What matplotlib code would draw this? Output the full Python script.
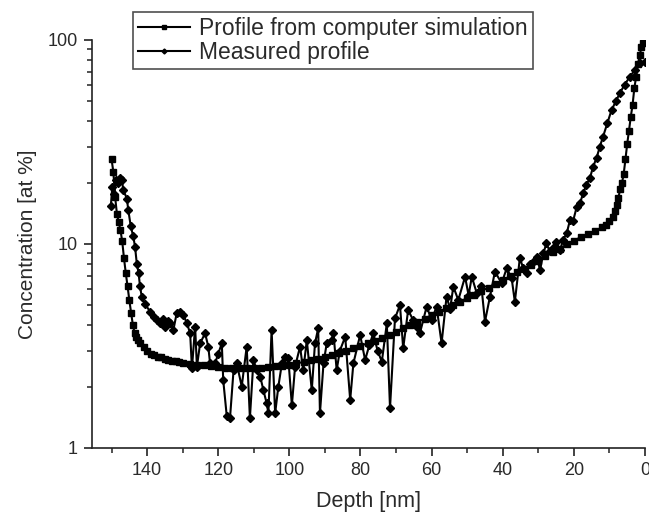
import matplotlib
matplotlib.use("Agg")
import matplotlib.pyplot as plt
from matplotlib.ticker import FixedLocator, FixedFormatter, LogLocator, NullFormatter, MultipleLocator

# ---- data ----
sim_depth = [150, 149.5, 149, 148.5, 148, 147.5, 147, 146.5, 146, 145.5, 145, 144.5, 144,
             143.5, 143, 142.5, 142, 141, 140, 139, 138, 137, 136, 135, 134, 133, 132, 131,
             130, 128, 126, 124, 122, 120, 118, 116, 114, 112, 110, 108, 106, 104, 102, 100,
             98, 96, 94, 92, 90, 88, 86, 84, 82, 80, 78, 76, 74, 72, 70, 68, 66, 64, 62, 60,
             58, 56, 54, 52, 50, 48, 46, 44, 42, 40, 38, 36, 34, 32, 30, 28, 26, 24, 22, 20,
             18, 16, 14, 12, 11, 10, 9, 8.5, 8, 7.5, 7, 6.5, 6, 5.5, 5, 4.5, 4, 3.5, 3, 2.5,
             2, 1.5, 1, 0.5, 0]
sim_conc = [26.0, 22.6, 17.0, 14.1, 12.8, 11.7, 10.3, 8.5, 7.2, 6.2, 5.3, 4.6, 4.0,
            3.65, 3.5, 3.38, 3.28, 3.14, 3.0, 2.9, 2.85, 2.80, 2.78, 2.74, 2.71, 2.68, 2.66, 2.64,
            2.62, 2.59, 2.56, 2.54, 2.52, 2.50, 2.48, 2.47, 2.46, 2.46, 2.46, 2.47, 2.49, 2.51, 2.53, 2.56,
            2.60, 2.64, 2.69, 2.74, 2.80, 2.86, 2.93, 3.00, 3.08, 3.17, 3.26, 3.36, 3.47, 3.59, 3.72, 3.86, 4.00, 4.15, 4.31, 4.48,
            4.65, 4.83, 5.02, 5.22, 5.43, 5.65, 5.88, 6.12, 6.38, 6.65, 6.95, 7.25, 7.58, 7.92, 8.30, 8.70, 9.10, 9.50, 9.95, 10.4,
            10.8, 11.2, 11.6, 12.1, 12.4, 12.9, 13.5, 14.5, 15.5, 16.8, 18.5, 19.8, 22.0, 26.0, 31.0, 36.0, 42.0, 48.0, 58.0, 66.0,
            76.0, 84.0, 92.0, 97.0, 100.0]

meas_depth = [150.2, 149.8, 149.3, 148.8, 148.1, 147.5, 147.1, 146.7, 145.7, 145.3, 144.6, 143.9,
              143.4, 142.9, 142.4, 142.0, 141.5, 140.6, 139.2, 138.2, 137.3, 136.3, 135.5, 134.9,
              134.2, 133.5, 132.6, 131.7, 130.7, 129.8, 128.8, 127.9, 127.4, 126.5, 126.0, 125.1,
              123.7, 122.8, 122.3, 120.9, 120.0, 119.0, 118.6, 117.6, 116.7, 115.7, 114.8, 113.4,
              112.0, 111.1, 110.1, 109.2, 108.2, 107.3, 106.4, 105.9, 105.0, 104.0, 103.1, 102.1,
              101.2, 100.3, 99.3, 98.4, 97.0, 96.1, 95.1, 93.7, 92.8, 91.9, 91.4, 90.4, 89.5, 88.1,
              87.6, 86.7, 85.8, 84.3, 82.9, 82.0, 80.1, 78.7, 77.5, 76.4, 75.2, 74.0, 72.6, 71.7,
              70.3, 68.9, 68.0, 66.6, 65.2, 64.2, 63.3, 61.4, 60.0, 58.6, 57.2, 55.8, 54.8, 53.9,
              52.5, 50.6, 49.6, 48.7, 47.3, 46.0, 45.0, 43.6, 42.2, 40.3, 38.9, 37.5, 36.6, 35.2,
              34.2, 33.3, 32.3, 31.4, 30.4, 29.5, 28.6, 27.7, 26.8, 25.8, 24.9, 23.9, 23.0, 22.0,
              21.1, 20.2, 19.2, 18.3, 17.4, 16.5, 15.5, 14.6, 13.6, 12.7, 11.8, 10.6, 9.4, 8.2,
              7.1, 5.7, 4.25, 2.8, 1.4, 0.0]
meas_conc = [15.4, 19.0, 17.5, 20.6, 20.0, 21.0, 20.6, 18.4, 16.7, 14.7, 12.2, 10.9,
             9.7, 8.0, 7.2, 6.2, 5.5, 5.1, 4.66, 4.40, 4.24, 4.08, 4.3, 3.93,
             4.2, 4.08, 3.8, 4.57, 4.66, 4.49, 4.08, 3.65, 2.46, 3.93, 2.5, 3.26,
             3.65, 3.14, 2.6, 2.6, 2.9, 3.26, 2.15, 1.43, 1.40, 2.4, 2.6, 2.0,
             3.14, 1.40, 2.7, 2.4, 2.24, 1.92, 1.66, 1.48, 3.79, 1.48, 2.0, 2.6,
             2.8, 2.75, 1.62, 2.5, 3.14, 2.4, 3.38, 1.92, 3.26, 3.86, 1.48, 2.6, 3.26, 3.38,
             3.65, 2.41, 3.0, 3.51, 1.72, 2.6, 3.58, 2.70, 3.2, 3.65, 3.0, 2.65, 4.08, 1.57,
             4.32, 5.02, 3.08, 4.75, 4.24, 3.9, 3.65, 4.93, 4.24, 4.93, 3.26, 5.52, 4.8, 6.18,
             5.31, 6.91, 5.6, 6.91, 5.73, 6.2, 4.16, 5.52, 7.32, 6.42, 7.60, 6.8, 5.21, 8.51,
             7.6, 7.18, 8.0, 8.19, 8.6, 7.46, 9.0, 10.08, 9.2, 9.53, 10.2, 9.35, 10.5, 11.3,
             13.1, 13.0, 15.2, 15.8, 17.7, 19.5, 21.0, 23.9, 26.5, 30.0, 33.6, 39.0, 45.4, 50.0,
             54.8, 60.5, 66.1, 71.5, 76.9, 78.0]

y_ticks = [1, 10, 100]
y_tick_labels = ["1", "10", "100"]
x_ticks = [140, 120, 100, 80, 60, 40, 20, 0]
x_tick_labels = ["140", "120", "100", "80", "60", "40", "20", "0"]
series_labels = ["Profile from computer simulation", "Measured profile"]

# ---- style ----
plt.rcParams['font.family'] = ['Liberation Sans', 'DejaVu Sans']
txt = '#2a2a2a'

fig = plt.figure(figsize=(6.49, 5.22), dpi=100)
ax = fig.add_axes([92/649, 1 - 448/522, (645 - 92)/649, (448 - 40)/522])

ax.plot(sim_depth, sim_conc, color='black', lw=1.5, marker='s', ms=5.0,
        mec='black', mfc='black', label=series_labels[0])
ax.plot(meas_depth, meas_conc, color='black', lw=1.5, marker='D', ms=4.2,
        mec='black', mfc='black', label=series_labels[1])

ax.set_yscale('log')
ax.set_ylim(1, 100)
ax.set_xlim(155.5, 0)

ax.yaxis.set_major_locator(FixedLocator(y_ticks))
ax.yaxis.set_major_formatter(FixedFormatter(y_tick_labels))
ax.yaxis.set_minor_locator(LogLocator(base=10, subs=range(2, 10)))
ax.yaxis.set_minor_formatter(NullFormatter())
ax.xaxis.set_major_locator(FixedLocator(x_ticks))
ax.xaxis.set_major_formatter(FixedFormatter(x_tick_labels))
ax.xaxis.set_minor_locator(MultipleLocator(10))

for s in ['top', 'right']:
    ax.spines[s].set_visible(False)
for s in ['left', 'bottom']:
    ax.spines[s].set_linewidth(1.2)
    ax.spines[s].set_color('#222222')

ax.tick_params(which='major', direction='out', length=6, width=1.2, colors='#222222',
               labelsize=13, labelcolor=txt, pad=4)
ax.tick_params(which='minor', direction='out', length=3.5, width=1.1, colors='#222222')

ax.set_xlabel("Depth [nm]", fontsize=15.5, color=txt, labelpad=9)
ax.set_ylabel("Concentration [at %]", fontsize=15, color=txt, labelpad=8)

leg = ax.legend(loc='upper left', bbox_to_anchor=(133/649, 1 - 12/522),
                bbox_transform=fig.transFigure, fontsize=16.5, frameon=True,
                fancybox=False, edgecolor='#222222', handlelength=2.3,
                borderpad=0.2, labelspacing=0.08, handletextpad=0.4, markerscale=0.6,
                borderaxespad=0)
leg.get_frame().set_linewidth(1.2)
for t in leg.get_texts():
    t.set_color(txt)

fig.savefig("out.png", dpi=100)
